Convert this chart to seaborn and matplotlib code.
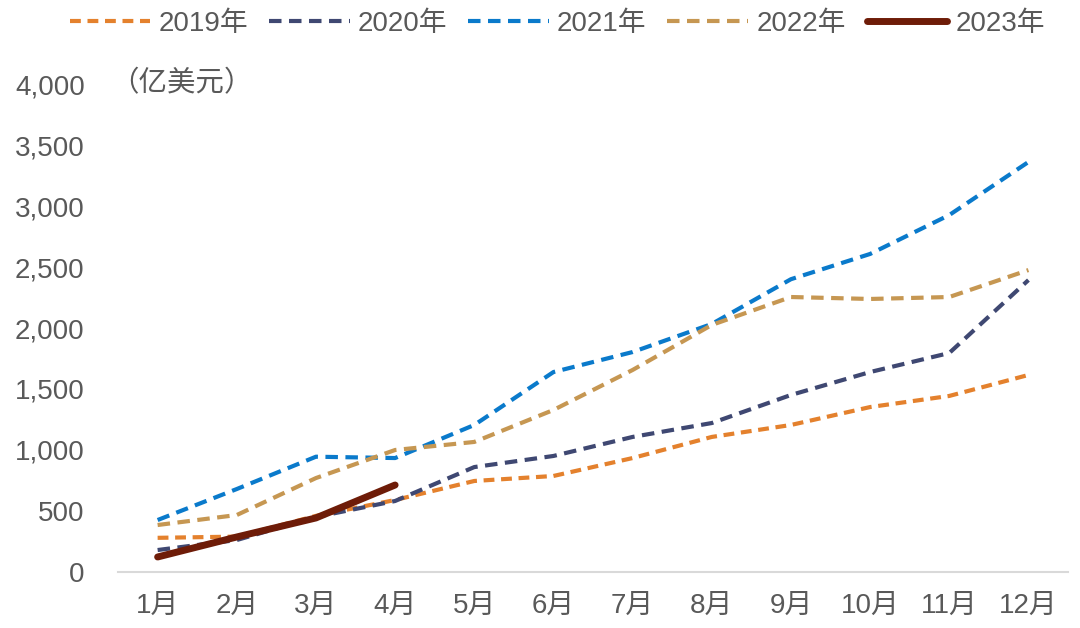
import numpy as np
import pandas as pd
import matplotlib.pyplot as plt
import seaborn as sns

months = ['1月', '2月', '3月', '4月', '5月', '6月', '7月', '8月', '9月', '10月', '11月', '12月']
y2019 = [280, 290, 460, 590, 746, 787, 934, 1107, 1205, 1352, 1443, 1615]
y2020 = [180, 262, 451, 582, 860, 951, 1107, 1221, 1451, 1639, 1795, 2393]
y2021 = [426, 680, 945, 934, 1205, 1639, 1803, 2033, 2400, 2607, 2926, 3361]
y2022 = [385, 467, 770, 1000, 1066, 1328, 1656, 2025, 2254, 2238, 2254, 2475]
y2023 = [123, 287, 443, 713]

series = [
    ('2019年', y2019, '#E4812D', 3.0, (0, (2.6, 1.6))),
    ('2020年', y2020, '#3F4872', 3.0, (0, (3, 1.8))),
    ('2021年', y2021, '#0A7ACB', 3.0, (0, (3, 1.8))),
    ('2022年', y2022, '#C69752', 3.0, (0, (3, 1.8))),
    ('2023年', y2023, '#6E1C08', 5.0, '-'),
]

sns.set_style('white')
plt.rcParams['font.family'] = ['Liberation Sans', 'Noto Sans CJK SC', 'DejaVu Sans']
text_color = '#595959'

fig = plt.figure(figsize=(10.8, 6.28), dpi=100)
ax = fig.add_axes([0.1093, 0.0892, 0.8796, 0.777])

for name, vals, color, lw, ls in series:
    df = pd.DataFrame({'month': np.arange(len(vals)), 'value': vals})
    sns.lineplot(data=df, x='month', y='value', ax=ax, color=color,
                 linewidth=lw, linestyle=ls, label=name)

ax.set_xlim(-0.5, 11.5)
ax.set_ylim(0, 4000)
ax.set_xticks(range(12))
ax.set_xticklabels(months)
ax.set_yticks(range(0, 4001, 500))
ax.set_yticklabels([f'{v:,}' for v in range(0, 4001, 500)])
ax.set_xlabel('')
ax.set_ylabel('')
ax.tick_params(axis='both', length=0, labelsize=20, colors=text_color)
ax.tick_params(axis='x', pad=15)
ax.tick_params(axis='y', pad=24)
for s in ['left', 'right', 'top']:
    ax.spines[s].set_visible(False)
ax.spines['bottom'].set_color('#D9D9D9')
ax.spines['bottom'].set_linewidth(1.5)

fig.text(0.102, 0.866, '（亿美元）', fontsize=20.5, color=text_color, va='center', ha='left')

ax.legend(loc='center', bbox_to_anchor=(0.516, 0.962), bbox_transform=fig.transFigure,
          ncol=5, frameon=False, fontsize=20, handlelength=2.9, handletextpad=0.3,
          columnspacing=0.75, labelcolor=text_color)

fig.savefig('out.png', dpi=100)
